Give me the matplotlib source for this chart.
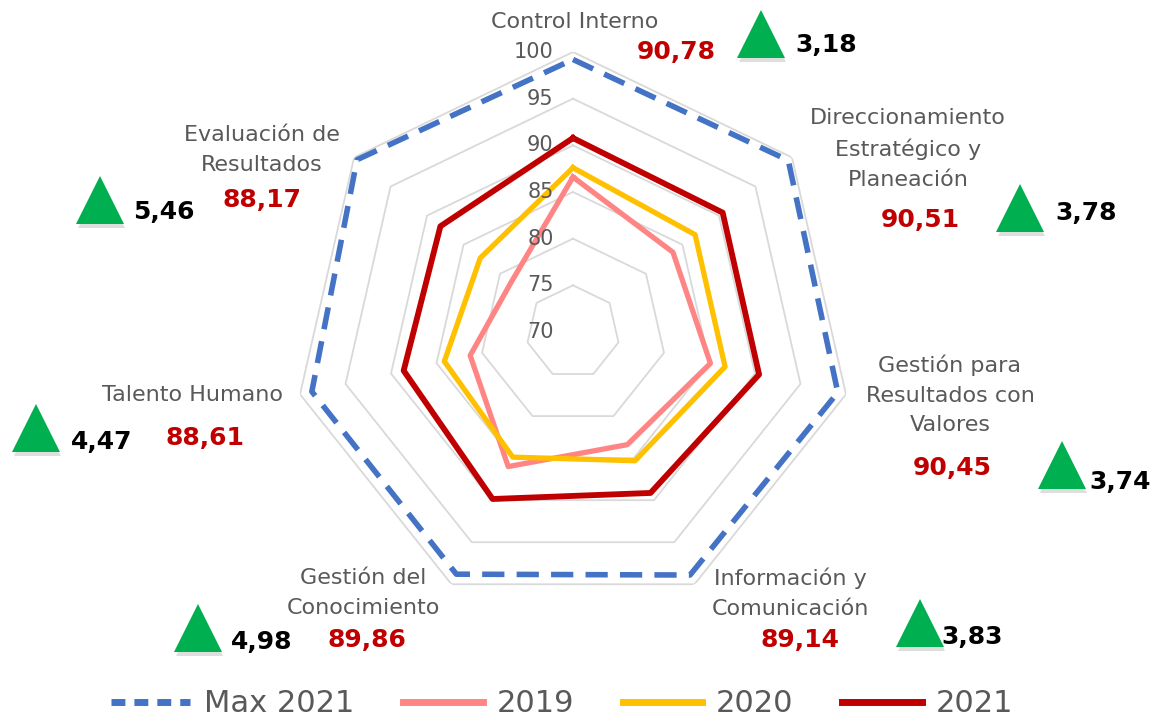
import numpy as np
import matplotlib
matplotlib.use("Agg")
import matplotlib.pyplot as plt
from matplotlib.lines import Line2D
import matplotlib.patheffects as pe

# categories clockwise from the top
categories = ["Control Interno", "Direccionamiento\nEstratégico y\nPlaneación",
              "Gestión para\nResultados con\nValores", "Información y\nComunicación",
              "Gestión del\nConocimiento", "Talento Humano", "Evaluación de\nResultados"]
max_2021 = [99.2, 99.5, 99.1, 98.9, 98.8, 98.7, 99.6]
v2019 = [86.6, 83.7, 85.1, 83.4, 86.0, 81.3, 78.5]
v2021 = [90.78, 90.51, 90.45, 89.14, 89.86, 88.61, 88.17]
delta = [3.18, 3.78, 3.74, 3.83, 4.98, 4.47, 5.46]
v2020 = [round(a - d, 2) for a, d in zip(v2021, delta)]
ring_ticks = [70, 75, 80, 85, 90, 95, 100]

W, H = 1154, 721
grey = "#595959"

plt.rcParams['font.family'] = ['DejaVu Sans']

fig = plt.figure(figsize=(W / 100, H / 100), dpi=100)

# polar axes: center (573,332) px, radius 280 px
cx, cy, R = 573, 332, 280
ax = fig.add_axes([(cx - R) / W, (H - cy - R) / H, 2 * R / W, 2 * R / H], projection="polar")
ax.set_theta_offset(np.pi / 2)
ax.set_theta_direction(-1)
ax.set_ylim(70, 100)
ax.grid(False)
ax.spines["polar"].set_visible(False)
ax.set_xticks([])
ax.set_yticks([])
ax.patch.set_alpha(0)

n = len(categories)
theta = np.linspace(0, 2 * np.pi, n, endpoint=False)
tc = np.append(theta, theta[0])

def closed(v):
    return np.append(v, v[0])

for r in ring_ticks[1:]:
    ax.plot(tc, [r] * (n + 1), color="#D9D9D9", lw=1.3, zorder=1)
for r in ring_ticks:
    ax.annotate(str(r), (0, r), xytext=(-14, 0), textcoords="offset points",
                ha="right", va="center", fontsize=15, color=grey, zorder=5)

ax.plot(tc, closed(max_2021), color="#4472C4", lw=4, ls=(0, (4, 2.2)), zorder=3)
ax.plot(tc, closed(v2019), color="#FF8585", lw=3.8, zorder=3)
ax.plot(tc, closed(v2020), color="#FFC000", lw=3.8, zorder=3)
ax.plot(tc, closed(v2021), color="#C00000", lw=4.2, zorder=4)

# overlay in pixel coordinates for annotations
ov = fig.add_axes([0, 0, 1, 1])
ov.set_xlim(0, W)
ov.set_ylim(H, 0)
ov.axis("off")
ov.patch.set_alpha(0)

label_pos = [(575, 22), (908, 149), (950, 395), (790, 593), (363, 593), (192, 395), (262, 150)]
value_pos = [(676, 52), (920, 220), (952, 468), (800, 640), (367, 640), (205, 438), (262, 200)]
tri_pos = [(761, 34), (1020, 208), (1062, 465), (920, 623), (198, 628), (36, 428), (100, 200)]
delta_pos = [(826, 45), (1086, 213), (1120, 482), (972, 637), (262, 642), (102, 442), (164, 212)]

shadow = [pe.SimplePatchShadow(offset=(1, -3), shadow_rgbFace="#7f7f7f", alpha=0.25), pe.Normal()]
for i in range(n):
    ov.text(*label_pos[i], categories[i], ha="center", va="center", fontsize=16,
            color=grey, linespacing=1.6)
    ov.text(*value_pos[i], f"{v2021[i]:.2f}".replace(".", ","), ha="center", va="center",
            fontsize=18, fontweight="bold", color="#C00000")
    ov.plot(*tri_pos[i], marker="^", markersize=34, color="#00B050", mec="none",
            path_effects=shadow)
    ov.text(*delta_pos[i], f"{delta[i]:.2f}".replace(".", ","), ha="center", va="center",
            fontsize=18, fontweight="bold", color="black")

handles = [Line2D([], [], color="#4472C4", lw=5, ls=(0, (2, 1.3))),
           Line2D([], [], color="#FF8585", lw=5),
           Line2D([], [], color="#FFC000", lw=5),
           Line2D([], [], color="#C00000", lw=5)]
fig.legend(handles, ["Max 2021", "2019", "2020", "2021"], loc="center",
           bbox_to_anchor=(0.487, 1 - 704 / H), ncol=4, frameon=False, fontsize=22,
           handlelength=2.6, columnspacing=1.6, handletextpad=0.45, labelcolor=grey)

fig.savefig("out.png", dpi=100)
